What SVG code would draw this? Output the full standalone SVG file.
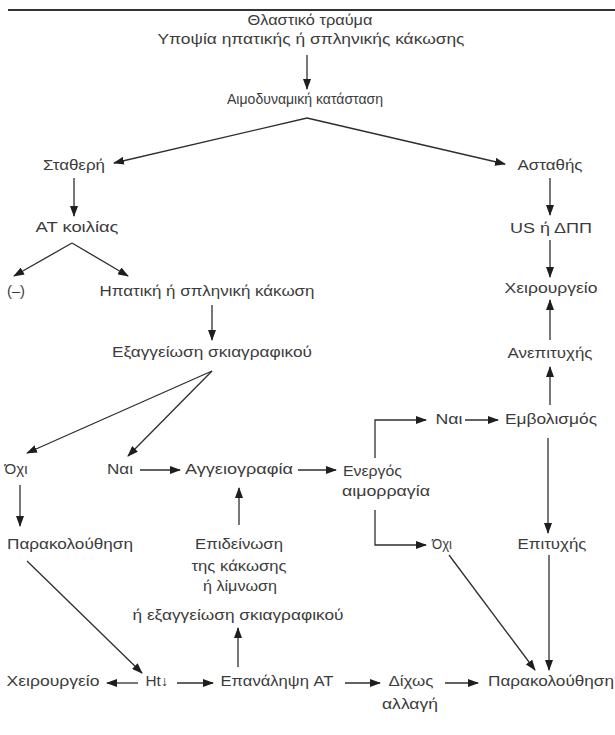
<svg xmlns="http://www.w3.org/2000/svg" width="615" height="735" viewBox="0 0 615 735">
<defs>
<style>
.t{font-family:"Liberation Sans","DejaVu Sans",sans-serif;font-size:14px;fill:#3c3c3c;text-anchor:middle}
.s{text-anchor:start}
.c{fill:none;stroke:#2e2e2e;stroke-width:1.3}
</style>
<marker id="ah" markerUnits="userSpaceOnUse" markerWidth="11" markerHeight="8" refX="10" refY="4" orient="auto">
<path d="M0,0 L11,4 L0,8 z" fill="#1e1e1e"/>
</marker>
</defs>
<rect width="615" height="735" fill="#ffffff"/>
<line x1="8" y1="10" x2="615" y2="10" stroke="#333" stroke-width="2"/>

<g id="connectors">
<path class="c" d="M307,55 L307,89" marker-end="url(#ah)"/>
<path class="c" d="M307,118 L114,163" marker-end="url(#ah)"/>
<path class="c" d="M307,118 L505,164" marker-end="url(#ah)"/>
<path class="c" d="M74,178 L74,216" marker-end="url(#ah)"/>
<path class="c" d="M72,243 L14,276" marker-end="url(#ah)"/>
<path class="c" d="M72,243 L128,276" marker-end="url(#ah)"/>
<path class="c" d="M550,178 L550,215" marker-end="url(#ah)"/>
<path class="c" d="M550,240 L550,277" marker-end="url(#ah)"/>
<path class="c" d="M550,340 L550,300" marker-end="url(#ah)"/>
<path class="c" d="M550,405 L550,367" marker-end="url(#ah)"/>
<path class="c" d="M548,438 L548,533" marker-end="url(#ah)"/>
<path class="c" d="M212,305 L212,340" marker-end="url(#ah)"/>
<path class="c" d="M212,371 L27,453" marker-end="url(#ah)"/>
<path class="c" d="M212,371 L128,456" marker-end="url(#ah)"/>
<path class="c" d="M140,470 L180,470" marker-end="url(#ah)"/>
<path class="c" d="M298,470 L336,470" marker-end="url(#ah)"/>
<path class="c" d="M375,458 L375,420 L426,420" marker-end="url(#ah)"/>
<path class="c" d="M375,510 L375,545 L426,545" marker-end="url(#ah)"/>
<path class="c" d="M465,420 L498,420" marker-end="url(#ah)"/>
<path class="c" d="M20,485 L20,526" marker-end="url(#ah)"/>
<path class="c" d="M239,525 L239,488" marker-end="url(#ah)"/>
<path class="c" d="M238,667 L238,628" marker-end="url(#ah)"/>
<path class="c" d="M27,561 L142,673" marker-end="url(#ah)"/>
<path class="c" d="M449,555 L535,670" marker-end="url(#ah)"/>
<path class="c" d="M549,555 L549,670" marker-end="url(#ah)"/>
<path class="c" d="M138,683 L107,683" marker-end="url(#ah)"/>
<path class="c" d="M177,683 L213,683" marker-end="url(#ah)"/>
<path class="c" d="M345,683 L380,683" marker-end="url(#ah)"/>
<path class="c" d="M445,683 L478,683" marker-end="url(#ah)"/>
</g>

<g id="n-trauma"><text class="t" x="310" y="25" textLength="125" lengthAdjust="spacingAndGlyphs">Θλαστικό τραύμα</text>
<text class="t" x="311" y="44" textLength="307" lengthAdjust="spacingAndGlyphs">Υποψία ηπατικής ή σπληνικής κάκωσης</text></g>
<g id="n-haemo"><text class="t" x="305" y="104" textLength="156" lengthAdjust="spacingAndGlyphs">Αιμοδυναμική κατάσταση</text></g>
<g id="n-stable"><text class="t" x="74" y="170" textLength="62" lengthAdjust="spacingAndGlyphs">Σταθερή</text></g>
<g id="n-unstable"><text class="t" x="550" y="170" textLength="65" lengthAdjust="spacingAndGlyphs">Ασταθής</text></g>
<g id="n-ct"><text class="t" x="77" y="232" textLength="83" lengthAdjust="spacingAndGlyphs">AT κοιλίας</text></g>
<g id="n-us"><text class="t" x="551" y="233" textLength="82" lengthAdjust="spacingAndGlyphs">US ή ΔΠΠ</text></g>
<g id="n-neg"><text class="t" x="16" y="296" textLength="18" lengthAdjust="spacingAndGlyphs">(–)</text></g>
<g id="n-injury"><text class="t" x="207" y="296" textLength="215" lengthAdjust="spacingAndGlyphs">Ηπατική ή σπληνική κάκωση</text></g>
<g id="n-surgery1"><text class="t" x="551" y="293" textLength="93" lengthAdjust="spacingAndGlyphs">Χειρουργείο</text></g>
<g id="n-extrav"><text class="t" x="212" y="357" textLength="200" lengthAdjust="spacingAndGlyphs">Εξαγγείωση σκιαγραφικού</text></g>
<g id="n-fail"><text class="t" x="550" y="358" textLength="85" lengthAdjust="spacingAndGlyphs">Ανεπιτυχής</text></g>
<g id="n-yes2"><text class="t" x="449" y="424" textLength="27" lengthAdjust="spacingAndGlyphs">Ναι</text></g>
<g id="n-embol"><text class="t" x="551" y="424" textLength="92" lengthAdjust="spacingAndGlyphs">Εμβολισμός</text></g>
<g id="n-no1"><text class="t" x="16" y="474" textLength="23" lengthAdjust="spacingAndGlyphs">Όχι</text></g>
<g id="n-yes1"><text class="t" x="120" y="474" textLength="26" lengthAdjust="spacingAndGlyphs">Ναι</text></g>
<g id="n-angio"><text class="t" x="239" y="474" textLength="108" lengthAdjust="spacingAndGlyphs">Αγγειογραφία</text></g>
<g id="n-active"><text class="t s" x="343" y="476" textLength="59" lengthAdjust="spacingAndGlyphs">Ενεργός</text>
<text class="t s" x="342" y="496" textLength="88" lengthAdjust="spacingAndGlyphs">αιμορραγία</text></g>
<g id="n-no2"><text class="t" x="442" y="549" textLength="20" lengthAdjust="spacingAndGlyphs">Όχι</text></g>
<g id="n-success"><text class="t" x="552" y="549" textLength="69" lengthAdjust="spacingAndGlyphs">Επιτυχής</text></g>
<g id="n-obs1"><text class="t" x="70" y="549" textLength="126" lengthAdjust="spacingAndGlyphs">Παρακολούθηση</text></g>
<g id="n-worse"><text class="t" x="239" y="549" textLength="88" lengthAdjust="spacingAndGlyphs">Επιδείνωση</text>
<text class="t" x="239" y="571" textLength="95" lengthAdjust="spacingAndGlyphs">της κάκωσης</text>
<text class="t" x="240" y="591" textLength="74" lengthAdjust="spacingAndGlyphs">ή λίμνωση</text>
<text class="t" x="238" y="620" textLength="211" lengthAdjust="spacingAndGlyphs">ή εξαγγείωση σκιαγραφικού</text></g>
<g id="n-surgery2"><text class="t" x="53" y="686" textLength="93" lengthAdjust="spacingAndGlyphs">Χειρουργείο</text></g>
<g id="n-ht"><text class="t" x="157" y="686" textLength="23" lengthAdjust="spacingAndGlyphs">Ht↓</text></g>
<g id="n-repeat"><text class="t" x="277" y="686" textLength="113" lengthAdjust="spacingAndGlyphs">Επανάληψη AT</text></g>
<g id="n-nochange"><text class="t" x="411" y="686" textLength="45" lengthAdjust="spacingAndGlyphs">Δίχως</text>
<text class="t" x="410" y="709" textLength="56" lengthAdjust="spacingAndGlyphs">αλλαγή</text></g>
<g id="n-obs2"><text class="t" x="551" y="686" textLength="126" lengthAdjust="spacingAndGlyphs">Παρακολούθηση</text></g>
</svg>
